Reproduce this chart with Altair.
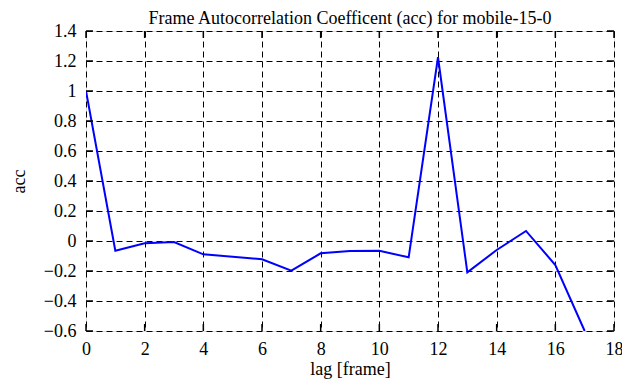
import altair as alt
import pandas as pd

lags = list(range(0, 18))
acc = [1.0, -0.065, -0.015, -0.007, -0.089, -0.105, -0.122, -0.198, -0.082,
       -0.067, -0.065, -0.109, 1.225, -0.209, -0.06, 0.067, -0.16, -0.6]
x_ticks = [0, 2, 4, 6, 8, 10, 12, 14, 16, 18]
y_ticks = [-0.6, -0.4, -0.2, 0, 0.2, 0.4, 0.6, 0.8, 1, 1.2, 1.4]

W, H = 528, 300
FONT = "Liberation Serif"
FS = 18

df = pd.DataFrame({"lag": lags, "acc": acc})
xt = pd.DataFrame({"t": x_ticks})
yt = pd.DataFrame({"t": y_ticks})

xscale = alt.Scale(domain=[0, 18], nice=False, zero=False)
yscale = alt.Scale(domain=[-0.6, 1.4], nice=False, zero=False)

common = dict(ticks=False, domain=False, grid=True, gridColor="black",
              gridDash=[6, 4], gridOpacity=1, gridWidth=1,
              labelFont=FONT, labelFontSize=FS, labelColor="black",
              labelOverlap=False, labelFlush=False,
              titleFont=FONT, titleFontSize=FS, titleFontWeight="normal",
              titleColor="black")
x_axis = alt.Axis(values=x_ticks, title="lag [frame]", labelPadding=9,
                  titlePadding=2, **common)
y_axis = alt.Axis(values=y_ticks, title="acc", labelPadding=10,
                  titlePadding=15, format="~g", **common)

line = alt.Chart(df).mark_line(color="#0000ff", strokeWidth=2, clip=True).encode(
    x=alt.X("lag:Q", scale=xscale, axis=x_axis),
    y=alt.Y("acc:Q", scale=yscale, axis=y_axis),
)

tick_kw = dict(color="black", thickness=1.5, size=7, opacity=1)
yl = alt.Chart(yt).mark_tick(orient="horizontal", **tick_kw).encode(
    y=alt.Y("t:Q", scale=yscale, axis=y_axis, title="acc"), x=alt.value(3.5))
yr = alt.Chart(yt).mark_tick(orient="horizontal", **tick_kw).encode(
    y=alt.Y("t:Q", scale=yscale, axis=y_axis, title="acc"), x=alt.value(W - 3.5))
xb = alt.Chart(xt).mark_tick(orient="vertical", **tick_kw).encode(
    x=alt.X("t:Q", scale=xscale, axis=x_axis, title="lag [frame]"), y=alt.value(H - 3.5))
xtop = alt.Chart(xt).mark_tick(orient="vertical", **tick_kw).encode(
    x=alt.X("t:Q", scale=xscale, axis=x_axis, title="lag [frame]"), y=alt.value(3.5))

chart = alt.layer(line, yl, yr, xb, xtop).properties(
    width=W, height=H,
    title=alt.Title("Frame Autocorrelation Coefficent (acc) for mobile-15-0",
                    font=FONT, fontSize=FS, fontWeight="normal", color="black",
                    anchor="middle", offset=1, dy=7),
    autosize=alt.AutoSizeParams(type="none"),
    padding={"left": 78, "top": 23, "right": 8, "bottom": 48},
).configure_view(stroke="black", strokeWidth=2).configure(background="white")

chart.save("out.html", embed_options={"renderer": "svg", "actions": False})
